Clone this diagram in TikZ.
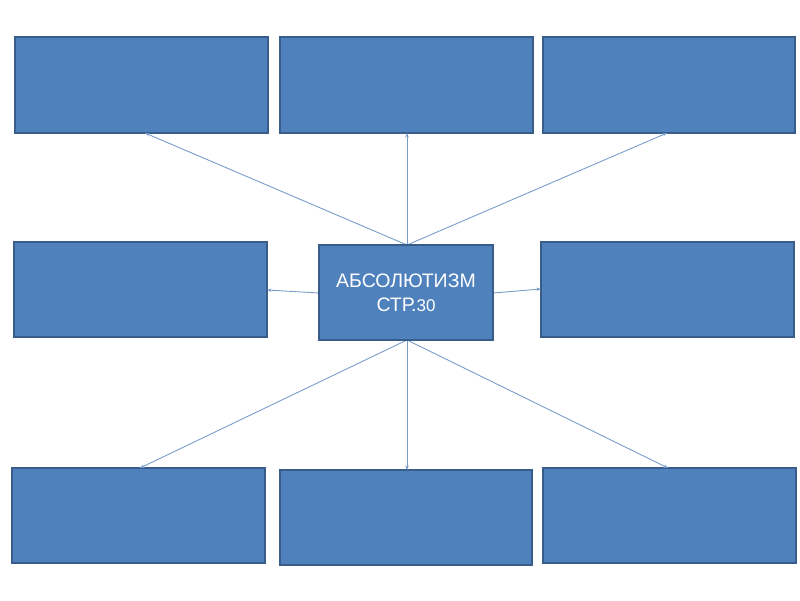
\documentclass[tikz,border=0pt]{standalone}
\usepackage{fontspec}
\setmainfont{Liberation Sans}
\usetikzlibrary{arrows.meta}
\definecolor{boxfill}{HTML}{4F81BD}
\definecolor{boxline}{HTML}{385D8A}
\definecolor{linkcol}{HTML}{7A9CCB}
\begin{document}
\begin{tikzpicture}[x=1pt,y=-1pt,
  bluebox/.style={draw=boxline,line width=1.2pt,fill=boxfill},
  link/.style={draw=linkcol,line width=0.9pt,-{Stealth[length=4.5pt,width=3.5pt]}}]
\useasboundingbox (0,0) rectangle (800,600);
% boxes
\draw[bluebox] (15,37) rectangle (268,133);
\draw[bluebox] (280,37) rectangle (533,133);
\draw[bluebox] (543,37) rectangle (795,133);
\draw[bluebox] (14,242) rectangle (267,337);
\draw[bluebox] (541,242) rectangle (794,337);
\draw[bluebox] (12,468) rectangle (265,563);
\draw[bluebox] (280,470) rectangle (532,565);
\draw[bluebox] (543,468) rectangle (796,563);
% named anchor coordinates
\coordinate (tl) at (145,133);
\coordinate (tm) at (407,133);
\coordinate (tr) at (667,133);
\coordinate (ml) at (267,290);
\coordinate (mr) at (541,289);
\coordinate (bl) at (140,468);
\coordinate (bm) at (407,470);
\coordinate (br) at (668,468);
\coordinate (ct) at (407,245);
\coordinate (cb) at (407,340);
\coordinate (cl) at (319,293);
\coordinate (cr) at (493,293);
% connectors
\draw[link] (ct) -- (tl);
\draw[link] (ct) -- (tm);
\draw[link] (ct) -- (tr);
\draw[link] (cl) -- (ml);
\draw[link] (cr) -- (mr);
\draw[link] (cb) -- (bl);
\draw[link] (cb) -- (bm);
\draw[link] (cb) -- (br);
% centre box
\draw[bluebox] (319,245) rectangle (493,340);
\node[text=white,align=center,font=\fontsize{19.5pt}{24pt}\selectfont] (center) at (406,293)
  {АБСОЛЮТИЗМ\\СТР.{\fontsize{17pt}{24pt}\selectfont 30}};
\end{tikzpicture}
\end{document}
